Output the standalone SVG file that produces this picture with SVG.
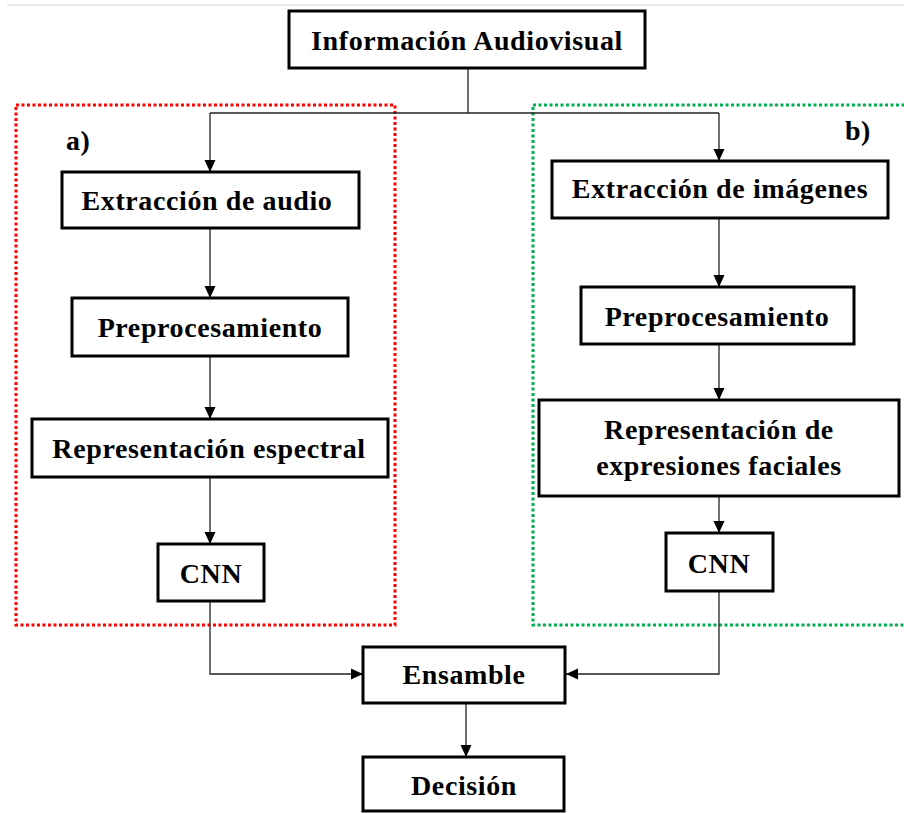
<svg xmlns="http://www.w3.org/2000/svg" width="904" height="813" viewBox="0 0 904 813">
<defs>
<style>
.box{fill:#fff;stroke:#000;stroke-width:3}
.t{font-family:"Liberation Serif","Times New Roman",serif;font-weight:bold;font-size:28px;letter-spacing:0.6px;fill:#000;text-anchor:middle}
.lbl{font-family:"Liberation Serif","Times New Roman",serif;font-weight:bold;font-size:28px;letter-spacing:0.5px;fill:#000}
.c{fill:none;stroke:#222;stroke-width:1.3}
.grp{fill:none;stroke-width:3;stroke-dasharray:3 2.5}
</style>
<marker id="ah" markerUnits="userSpaceOnUse" markerWidth="12" markerHeight="12" viewBox="0 0 12 12" refX="12" refY="6" orient="auto">
<path d="M0,0.5 L12,6 L0,11.5 z" fill="#000"/>
</marker>
</defs>
<rect width="904" height="813" fill="#fff"/>
<line x1="7" y1="5" x2="904" y2="5" stroke="#e2e2e2" stroke-width="1.5"/>

<g id="group-a">
<rect class="grp" x="16" y="105" width="379" height="520" stroke="#ff0000"/>
<text class="lbl" x="66" y="150">a)</text>
</g>
<g id="group-b">
<rect class="grp" x="533" y="105" width="390" height="520" stroke="#00b050"/>
<text class="lbl" x="845" y="140">b)</text>
</g>

<g id="connectors">
<path class="c" d="M468,69 V113"/>
<path class="c" d="M210,113 H719"/>
<path class="c" d="M210,113 V172" marker-end="url(#ah)"/>
<path class="c" d="M719,113 V161" marker-end="url(#ah)"/>
<path class="c" d="M210,229 V298" marker-end="url(#ah)"/>
<path class="c" d="M210,357 V419" marker-end="url(#ah)"/>
<path class="c" d="M210,478 V544" marker-end="url(#ah)"/>
<path class="c" d="M210,602 V674 H363" marker-end="url(#ah)"/>
<path class="c" d="M719,219 V287" marker-end="url(#ah)"/>
<path class="c" d="M719,345 V400" marker-end="url(#ah)"/>
<path class="c" d="M719,497 V533" marker-end="url(#ah)"/>
<path class="c" d="M719,592 V674 H566" marker-end="url(#ah)"/>
<path class="c" d="M466,704 V757" marker-end="url(#ah)"/>
</g>

<g id="info">
<rect class="box" x="289" y="11" width="356" height="57"/>
<text class="t" x="467" y="50">Información Audiovisual</text>
</g>
<g id="extr-audio">
<rect class="box" x="62" y="172" width="297" height="56"/>
<text class="t" x="207" y="210">Extracción de audio</text>
</g>
<g id="prep-audio">
<rect class="box" x="72" y="298" width="276" height="58"/>
<text class="t" x="210" y="337">Preprocesamiento</text>
</g>
<g id="rep-espectral">
<rect class="box" x="32" y="419" width="356" height="58"/>
<text class="t" x="209" y="458">Representación espectral</text>
</g>
<g id="cnn-audio">
<rect class="box" x="158" y="544" width="106" height="57"/>
<text class="t" x="211" y="583">CNN</text>
</g>
<g id="extr-img">
<rect class="box" x="552" y="161" width="336" height="57"/>
<text class="t" x="720" y="198">Extracción de imágenes</text>
</g>
<g id="prep-img">
<rect class="box" x="581" y="287" width="273" height="57"/>
<text class="t" x="717" y="326">Preprocesamiento</text>
</g>
<g id="rep-faciales">
<rect class="box" x="539" y="400" width="360" height="96"/>
<text class="t" x="719" y="439">Representación de</text>
<text class="t" x="719" y="475">expresiones faciales</text>
</g>
<g id="cnn-img">
<rect class="box" x="666" y="533" width="107" height="58"/>
<text class="t" x="719" y="573">CNN</text>
</g>
<g id="ensamble">
<rect class="box" x="363" y="647" width="202" height="56"/>
<text class="t" x="464" y="684">Ensamble</text>
</g>
<g id="decision">
<rect class="box" x="363" y="757" width="201" height="54"/>
<text class="t" x="464" y="795">Decisión</text>
</g>
</svg>
